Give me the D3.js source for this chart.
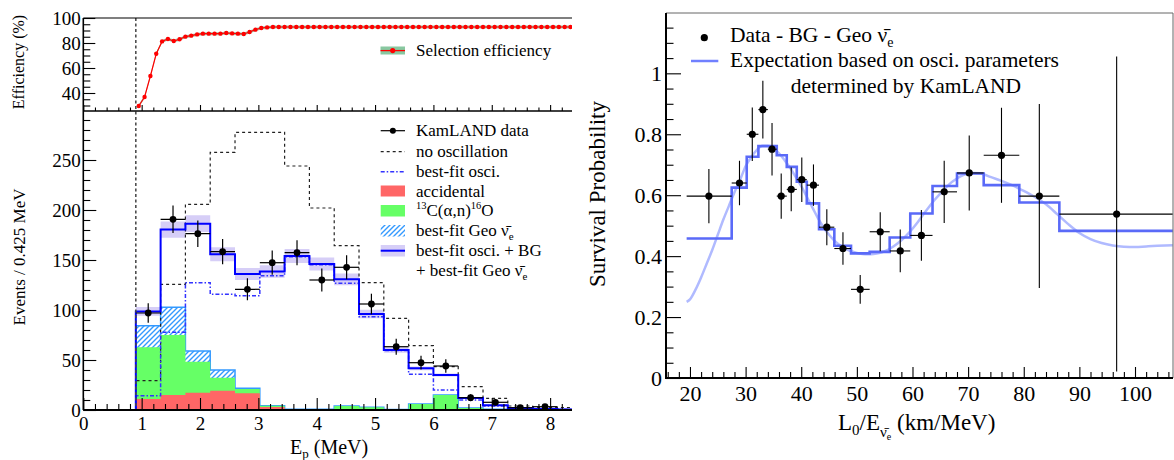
<!DOCTYPE html>
<html><head><meta charset="utf-8">
<script src="https://cdn.jsdelivr.net/npm/d3@7"></script>
<style>body{margin:0;background:#fff} svg{font-family:"Liberation Serif","Times New Roman",serif}</style>
</head><body><svg id="c" width="1174" height="460"></svg>
<script>
// ---------------- Left panel data (prompt energy spectrum) ----------------
const binEdgesEp = [0.9,1.325,1.75,2.175,2.6,3.025,3.45,3.875,4.3,4.725,5.15,5.575,6.0,6.425,6.85,7.275,7.7,8.125,8.55];
const kamlandData = [97,190.7,176.3,158.3,120.7,147.3,157.3,130,142.7,106,63.3,47.3,44,12.3,7.7,2.3,3.3];
const noOscillation = [29.3,125.7,205.7,257.7,277.7,277.7,244,202,164.3,127.3,91.7,64.3,43.3,23.3,11.7,4,2.7,2.5];
const bestFitOsci = [14.3,77.7,127.3,115.7,114.3,134.3,153.3,145.3,126.7,93.3,59.4,35.7,20,10,4,1.5,0.8,0.4];
const accidental = [11,15,17.3,19.3,16.7,3,0.5,0.5,0.5,0.5,0.4,0.4,0.3,0.3,0.2,0.2,0.1,0.1];
const carbon13 = [51.7,60,31,13,4.3,1.3,0.2,0.2,3.5,2.2,0.2,5.6,14.7,1.7,0.6,0.3,0.2,0.1];
const geoNu = [21.6,27.7,10.7,7.7,0.7,0,0,0,0,0,0,0,0,0,0,0,0,0];
const bandFraction = 0.045;

// efficiency curve
const effEnergy = [0.95,1.05,1.15,1.25,1.35,1.45,1.55,1.65,1.75,1.85,1.95,2.05,2.15,2.25,2.35,2.45,2.55,2.65,2.75,2.85,2.95,3.05,3.15,3.25,3.35,3.45,3.55,3.65,3.75,3.85,3.95,4.05,4.15,4.25,4.35,4.45,4.55,4.65,4.75,4.85,4.95,5.05,5.15,5.25,5.35,5.45,5.55,5.65,5.75,5.85,5.95,6.05,6.15,6.25,6.35,6.45,6.55,6.65,6.75,6.85,6.95,7.05,7.15,7.25,7.35,7.45,7.55,7.65,7.75,7.85,7.95,8.05,8.15,8.25,8.35];
const effValue = [29.6,36.8,53.6,71.4,81.3,83.2,81.6,83.0,85.1,85.9,86.9,87.5,87.5,87.5,87.5,88.0,87.7,87.5,87.2,88.8,90.7,92.0,92.5,92.8,92.8,92.8,92.8,92.8,92.8,92.8,92.8,92.8,92.8,92.8,92.8,92.8,92.8,92.8,92.8,92.8,92.8,92.8,92.8,92.8,92.8,92.8,92.8,92.8,92.8,92.8,92.8,92.8,92.8,92.8,92.8,92.8,92.8,92.8,92.8,92.8,92.8,92.8,92.8,92.8,92.8,92.8,92.8,92.8,92.8,92.8,92.8,92.8,92.8,92.8,92.8];
const effErr = 1.2;

const epTicks = [0,1,2,3,4,5,6,7,8];
const effTicks = [40,60,80,100];
const evTicks = [0,50,100,150,200,250];

// ---------------- Right panel data (L0/E survival probability) ----------------
const lOverEEdges = [19.4,27.5,30.2,32.3,34.0,35.6,37.4,39.2,41.0,43.2,45.95,48.95,52.3,55.9,59.6,63.6,68.0,72.8,79.2,86.4,106.8];
const survivalX = [23.4,28.9,31.2,33.1,34.75,36.4,38.2,40.1,42.2,44.6,47.5,50.6,54.2,57.8,61.6,65.7,70.2,76.0,82.8,96.7];
const survivalP = [0.597,0.640,0.800,0.881,0.751,0.597,0.619,0.651,0.633,0.495,0.425,0.291,0.480,0.417,0.468,0.611,0.673,0.731,0.597,0.538];
const survivalErr = [0.089,0.073,0.088,0.095,0.086,0.074,0.072,0.073,0.068,0.059,0.053,0.047,0.064,0.070,0.083,0.102,0.123,0.156,0.302,0.517];
const expectStep = [0.458,0.625,0.726,0.761,0.761,0.731,0.693,0.644,0.573,0.488,0.434,0.409,0.414,0.461,0.540,0.630,0.671,0.633,0.576,0.483];
const curveX = [19.4,20,21,22,23,24,25,26,27,28,29,30,31,32,33,34,35,36,37,38,39,40,41,42,43,44,45,46,47,48,49,50,51,52,53,54,55,56,57,58,59,60,61,62,63,64,65,66,67,68,69,70,71,72,73,74,76,78,80,82,84,86,88,90,92,94,96,98,100,102,104,106.8];
const curveP = [0.25,0.258,0.29,0.33,0.375,0.42,0.47,0.52,0.565,0.61,0.65,0.695,0.725,0.748,0.762,0.762,0.752,0.737,0.715,0.69,0.66,0.63,0.595,0.56,0.525,0.495,0.47,0.45,0.435,0.424,0.416,0.41,0.407,0.406,0.407,0.41,0.416,0.425,0.437,0.452,0.47,0.49,0.513,0.538,0.562,0.585,0.605,0.625,0.642,0.655,0.665,0.671,0.673,0.672,0.667,0.66,0.647,0.632,0.614,0.594,0.57,0.538,0.505,0.476,0.456,0.443,0.435,0.431,0.43,0.432,0.434,0.436];
const lTicks = [20,30,40,50,60,70,80,90,100];
const pTicks = [0,0.2,0.4,0.6,0.8,1];

// ---------------- drawing ----------------
const svg = d3.select("#c");
svg.append("rect").attr("width",1174).attr("height",460).attr("fill","#fff");
const FONT = "Liberation Serif, Times New Roman, serif";

const xL = d3.scaleLinear().domain([0,8.375]).range([83.3,572]);
const yEff = d3.scaleLinear().domain([25.6,100]).range([111,18]);
const yEv = d3.scaleLinear().domain([0,299]).range([410,111]);
const xR = d3.scaleLinear().domain([15.69,106.83]).range([666,1173]);
const yR = d3.scaleLinear().domain([0,1.198]).range([378,13]);

const defs = svg.append("defs");
const pat = defs.append("pattern").attr("id","hatch").attr("patternUnits","userSpaceOnUse").attr("width",5).attr("height",5);
pat.append("path").attr("d","M-1,6 L6,-1 M-1,1 L1,-1 M4,6 L6,4").attr("stroke","#3399ff").attr("stroke-width",1.4);
defs.append("clipPath").attr("id","clipL").append("rect").attr("x",83.3).attr("y",111).attr("width",572-83.3).attr("height",299);
defs.append("clipPath").attr("id","clipE").append("rect").attr("x",83.3).attr("y",18).attr("width",572-83.3).attr("height",93);
defs.append("clipPath").attr("id","clipR").append("rect").attr("x",666).attr("y",13).attr("width",507).attr("height",365);

function histPts(edges, vals, drop){
  const p = drop ? [[edges[0],0]] : [];
  vals.forEach((v,i)=>{ p.push([edges[i],v],[edges[i+1],v]); });
  if (drop) p.push([edges[vals.length],0]);
  return p;
}

// ---- left main pad ----
const gL = svg.append("g").attr("clip-path","url(#clipL)");
const redTop = accidental.slice();
const greenTop = accidental.map((a,i)=>a+carbon13[i]);
const hatchTop = greenTop.map((g,i)=>g+geoNu[i]);
const total = hatchTop.map((h,i)=>h+bestFitOsci[i]);

const lineL = d3.line().x(d=>xL(d[0])).y(d=>yEv(d[1]));
const areaL = d3.area().x(d=>xL(d[0])).y0(yEv(0)).y1(d=>yEv(d[1]));

// band
const bandPts = [];
total.forEach((t,i)=>{ const e=Math.max(1,t*bandFraction); bandPts.push([binEdgesEp[i],t-e,t+e],[binEdgesEp[i+1],t-e,t+e]); });
gL.append("path").attr("d", d3.area().x(d=>xL(d[0])).y0(d=>yEv(d[1])).y1(d=>yEv(d[2]))(bandPts)).attr("fill","#d6cef7");

gL.append("path").attr("d",areaL(histPts(binEdgesEp,hatchTop,true))).attr("fill","url(#hatch)");
gL.append("path").attr("d",lineL(histPts(binEdgesEp,hatchTop,true))).attr("fill","none").attr("stroke","#3399ff").attr("stroke-width",1.5);
gL.append("path").attr("d",areaL(histPts(binEdgesEp,greenTop,true))).attr("fill","#66ff66");
gL.append("path").attr("d",areaL(histPts(binEdgesEp,redTop,true))).attr("fill","#ff6666");

gL.append("path").attr("d",lineL(histPts(binEdgesEp,noOscillation,true))).attr("fill","none").attr("stroke","#222").attr("stroke-width",1.2).attr("stroke-dasharray","3,3");
gL.append("path").attr("d",lineL(histPts(binEdgesEp,bestFitOsci,true))).attr("fill","none").attr("stroke","#3333ff").attr("stroke-width",1.5).attr("stroke-dasharray","4,2,1.5,2");
gL.append("path").attr("d",lineL(histPts(binEdgesEp,total,true))).attr("fill","none").attr("stroke","#0000ff").attr("stroke-width",2);

// data points
kamlandData.forEach((v,i)=>{
  const x0=binEdgesEp[i], x1=binEdgesEp[i+1], xc=(x0+x1)/2, e=Math.sqrt(v);
  gL.append("line").attr("x1",xL(x0)).attr("x2",xL(x1)).attr("y1",yEv(v)).attr("y2",yEv(v)).attr("stroke","#000").attr("stroke-width",1.2);
  gL.append("line").attr("x1",xL(xc)).attr("x2",xL(xc)).attr("y1",yEv(v-e)).attr("y2",yEv(v+e)).attr("stroke","#000").attr("stroke-width",1.2);
  gL.append("circle").attr("cx",xL(xc)).attr("cy",yEv(v)).attr("r",3.4).attr("fill","#000");
});

// ---- efficiency pad ----
const gE = svg.append("g").attr("clip-path","url(#clipE)");
const effPts = effEnergy.map((e,i)=>[e,effValue[i]]);
gE.append("path").attr("d",d3.area().x(d=>xL(d[0])).y0(d=>yEff(d[1]-effErr)).y1(d=>yEff(d[1]+effErr))(effPts)).attr("fill","#7fbf9a").attr("opacity",0.8);
gE.append("path").attr("d",d3.line().x(d=>xL(d[0])).y(d=>yEff(d[1]))(effPts)).attr("fill","none").attr("stroke","#ff0000").attr("stroke-width",1.2);
gE.selectAll("circle").data(effPts).enter().append("circle").attr("cx",d=>xL(d[0])).attr("cy",d=>yEff(d[1])).attr("r",2.2).attr("fill","#ff0000");

// threshold line
svg.append("line").attr("x1",xL(0.9)).attr("x2",xL(0.9)).attr("y1",18).attr("y2",410).attr("stroke","#444").attr("stroke-width",1.5).attr("stroke-dasharray","3,2.5");

// ---- axes helper ----
function axis(gen, scale, vals, size, labels, pad, fs, tx, ty){
  const a = gen(scale).tickValues(vals).tickSize(-size).tickSizeOuter(0).tickPadding(pad);
  if(!labels) a.tickFormat("");
  const g = svg.append("g").attr("transform",`translate(${tx},${ty})`).call(a);
  g.select(".domain").remove();
  g.attr("font-family",FONT).attr("font-size",fs);
  g.selectAll("line").attr("stroke","#000").attr("stroke-width",1.1);
  g.selectAll("text").attr("fill","#000");
  return g;
}
const minorEp = d3.range(0,8.3,0.2).filter(v=>Math.abs(v-Math.round(v))>1e-6);
axis(d3.axisBottom, xL, epTicks, 12, true, 7, 19, 0, 410);
axis(d3.axisBottom, xL, minorEp, 6, false, 0, 19, 0, 410);
axis(d3.axisLeft, yEv, evTicks, 13, true, 2.5, 19, 83.3, 0);
axis(d3.axisLeft, yEv, d3.range(10,300,10).filter(v=>v%50), 7, false, 0, 19, 83.3, 0);
axis(d3.axisBottom, xL, epTicks, 6, false, 0, 19, 0, 111);
axis(d3.axisBottom, xL, minorEp, 3.5, false, 0, 19, 0, 111);
axis(d3.axisLeft, yEff, effTicks, 12, true, 2.5, 19, 83.3, 0);
axis(d3.axisLeft, yEff, [30,35,45,50,55,65,70,75,85,90,95], 7, false, 0, 19, 83.3, 0);
svg.append("line").attr("x1",83.3).attr("x2",83.3).attr("y1",18).attr("y2",410).attr("stroke","#000").attr("stroke-width",1.6);
svg.append("line").attr("x1",83.3).attr("x2",572).attr("y1",410).attr("y2",410).attr("stroke","#000").attr("stroke-width",2);
svg.append("line").attr("x1",83.3).attr("x2",572).attr("y1",111).attr("y2",111).attr("stroke","#000").attr("stroke-width",1.5);
svg.append("line").attr("x1",83.3).attr("x2",572).attr("y1",18).attr("y2",18).attr("stroke","#000").attr("stroke-width",1.2);

// left titles
svg.append("text").attr("transform","translate(24,62) rotate(-90)").attr("text-anchor","middle").attr("font-size",16).text("Efficiency (%)");
svg.append("text").attr("transform","translate(25,257) rotate(-90)").attr("text-anchor","middle").attr("font-size",17).text("Events / 0.425 MeV");
const ept = svg.append("text").attr("x",290).attr("y",454).attr("font-size",20);
ept.append("tspan").text("E");
ept.append("tspan").attr("dy",4).attr("font-size",13).text("p");
ept.append("tspan").attr("dy",-4).text(" (MeV)");

// efficiency legend
svg.append("rect").attr("x",380.5).attr("y",46.5).attr("width",24.5).attr("height",8).attr("fill","#88c8a0");
svg.append("line").attr("x1",380.5).attr("x2",405).attr("y1",50.6).attr("y2",50.6).attr("stroke","#ff0000").attr("stroke-width",1.3);
svg.append("circle").attr("cx",392.7).attr("cy",50.6).attr("r",2.6).attr("fill","#ff0000");
svg.append("text").attr("x",416).attr("y",55.5).attr("font-size",17).text("Selection efficiency");

// main legend
const lx0=380.7, lx1=405, tx=416;
const lg = svg.append("g");
lg.append("line").attr("x1",lx0).attr("x2",lx1).attr("y1",130.7).attr("y2",130.7).attr("stroke","#000").attr("stroke-width",1.2);
lg.append("circle").attr("cx",(lx0+lx1)/2).attr("cy",130.7).attr("r",3).attr("fill","#000");
lg.append("text").attr("x",tx).attr("y",136).attr("font-size",17).text("KamLAND data");
lg.append("line").attr("x1",lx0).attr("x2",lx1).attr("y1",151.7).attr("y2",151.7).attr("stroke","#222").attr("stroke-width",1.2).attr("stroke-dasharray","3,3");
lg.append("text").attr("x",tx).attr("y",157).attr("font-size",17).text("no oscillation");
lg.append("line").attr("x1",lx0).attr("x2",lx1).attr("y1",171.7).attr("y2",171.7).attr("stroke","#3333ff").attr("stroke-width",1.5).attr("stroke-dasharray","4,2,1.5,2");
lg.append("text").attr("x",tx).attr("y",177).attr("font-size",17).text("best-fit osci.");
lg.append("rect").attr("x",lx0).attr("y",185.5).attr("width",lx1-lx0).attr("height",11).attr("fill","#ff6666");
lg.append("text").attr("x",tx).attr("y",196.7).attr("font-size",17).text("accidental");
lg.append("rect").attr("x",lx0).attr("y",205).attr("width",lx1-lx0).attr("height",11.5).attr("fill","#66ff66");
const ct = lg.append("text").attr("x",tx).attr("y",216).attr("font-size",17);
ct.append("tspan").attr("font-size",10.5).attr("dy",-7).text("13");
ct.append("tspan").attr("dy",7).text("C(α,n)");
ct.append("tspan").attr("font-size",10.5).attr("dy",-7).text("16");
ct.append("tspan").attr("dy",7).text("O");
lg.append("rect").attr("x",lx0).attr("y",225).attr("width",lx1-lx0).attr("height",11.5).attr("fill","url(#hatch)");
const gt = lg.append("text").attr("x",tx).attr("y",236).attr("font-size",17);
gt.append("tspan").text("best-fit Geo ν\u0304");
gt.append("tspan").attr("dy",4).attr("font-size",11).text("e");
lg.append("rect").attr("x",lx0).attr("y",245).attr("width",lx1-lx0).attr("height",11.5).attr("fill","#d6cef7");
lg.append("line").attr("x1",lx0).attr("x2",lx1).attr("y1",250.7).attr("y2",250.7).attr("stroke","#0000ff").attr("stroke-width",2);
lg.append("text").attr("x",tx).attr("y",256).attr("font-size",17).text("best-fit osci. + BG");
const gt2 = lg.append("text").attr("x",tx).attr("y",275.7).attr("font-size",17);
gt2.append("tspan").text("+ best-fit Geo ν\u0304");
gt2.append("tspan").attr("dy",4).attr("font-size",11).text("e");

// ---------------- right panel ----------------
const gR = svg.append("g").attr("clip-path","url(#clipR)");
gR.append("path").attr("d",d3.line().curve(d3.curveMonotoneX).x(d=>xR(d[0])).y(d=>yR(d[1]))(curveX.map((x,i)=>[x,curveP[i]]))).attr("fill","none").attr("stroke","#b0baff").attr("stroke-width",2.5);
gR.append("path").attr("d",d3.line().x(d=>xR(d[0])).y(d=>yR(d[1]))(histPts(lOverEEdges,expectStep,false))).attr("fill","none").attr("stroke","#5a6af8").attr("stroke-width",2.6);
survivalX.forEach((x,i)=>{
  const p=survivalP[i], e=survivalErr[i];
  gR.append("line").attr("x1",xR(lOverEEdges[i])).attr("x2",xR(lOverEEdges[i+1])).attr("y1",yR(p)).attr("y2",yR(p)).attr("stroke","#000").attr("stroke-width",1.1);
  gR.append("line").attr("x1",xR(x)).attr("x2",xR(x)).attr("y1",yR(p-e)).attr("y2",yR(p+e)).attr("stroke","#000").attr("stroke-width",1.1);
  gR.append("circle").attr("cx",xR(x)).attr("cy",yR(p)).attr("r",3.6).attr("fill","#000");
});

axis(d3.axisBottom, xR, lTicks, 11, true, 7, 22, 0, 378);
axis(d3.axisBottom, xR, d3.range(16,107,2).filter(v=>v%10), 6, false, 0, 22, 0, 378);
axis(d3.axisLeft, yR, pTicks, 15, true, 4, 22, 666, 0).selectAll("text").text(d=>d===0?"0":(d===1?"1":d3.format(".1f")(d)));
axis(d3.axisLeft, yR, d3.range(0.05,1.17,0.05).filter(v=>Math.abs(v*5-Math.round(v*5))>1e-6), 7.5, false, 0, 22, 666, 0);
svg.append("line").attr("x1",666).attr("x2",1173).attr("y1",13).attr("y2",13).attr("stroke","#666").attr("stroke-width",1);
svg.append("line").attr("x1",1173).attr("x2",1173).attr("y1",13).attr("y2",378).attr("stroke","#666").attr("stroke-width",1);
svg.append("line").attr("x1",666).attr("x2",666).attr("y1",13).attr("y2",379).attr("stroke","#000").attr("stroke-width",2);
svg.append("line").attr("x1",665).attr("x2",1173).attr("y1",378).attr("y2",378).attr("stroke","#000").attr("stroke-width",2);

// right titles
svg.append("text").attr("transform","translate(605,194) rotate(-90)").attr("text-anchor","middle").attr("font-size",23).text("Survival Probability");
const lt = svg.append("text").attr("x",838).attr("y",430).attr("font-size",23);
lt.append("tspan").text("L");
lt.append("tspan").attr("dy",5).attr("font-size",15).text("0");
lt.append("tspan").attr("dy",-5).text("/E");
lt.append("tspan").attr("dy",7).attr("font-size",15).text("ν\u0304");
lt.append("tspan").attr("dy",3).attr("font-size",10).text("e");
lt.append("tspan").attr("dy",-10).text(" (km/MeV)");

// right legend
svg.append("circle").attr("cx",704.3).attr("cy",37.7).attr("r",3.6).attr("fill","#000");
const rt1 = svg.append("text").attr("x",730).attr("y",42).attr("font-size",21.5);
rt1.append("tspan").text("Data - BG - Geo ν\u0304");
rt1.append("tspan").attr("dy",5).attr("font-size",14).text("e");
svg.append("line").attr("x1",691).attr("x2",718.3).attr("y1",61).attr("y2",61).attr("stroke","#7080ff").attr("stroke-width",2.5);
svg.append("text").attr("x",730).attr("y",67).attr("font-size",21.5).text("Expectation based on osci. parameters");
svg.append("text").attr("x",790.7).attr("y",93).attr("font-size",21.5).text("determined by KamLAND");
</script></body></html>
